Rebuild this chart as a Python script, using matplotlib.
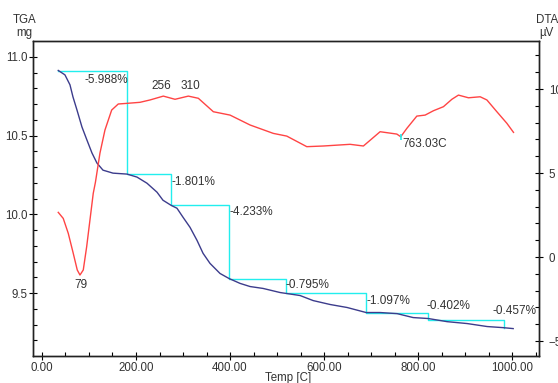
import matplotlib.pyplot as plt
import numpy as np

plt.rcParams['font.family'] = ['Liberation Sans', 'DejaVu Sans']

# TGA curve (mg) vs temperature (C)
tga_temp = [34.7, 48.9, 59.6, 66.0, 74.5, 85.1, 95.7, 106.4, 117.0, 129.8, 151.1,
            180.9, 202.1, 223.4, 244.7, 257.4, 274.5, 287.2, 300.0, 314.9, 329.8,
            342.6, 357.4, 378.7, 397.9, 421.3, 442.6, 470.2, 506.4, 548.9, 576.6,
            612.8, 648.9, 689.4, 719.1, 755.3, 789.4, 821.3, 861.7, 904.3, 946.8,
            980.9, 1002.1]
tga_mass = [10.913, 10.885, 10.822, 10.745, 10.662, 10.554, 10.471, 10.389, 10.325,
            10.280, 10.261, 10.255, 10.236, 10.197, 10.140, 10.089, 10.057, 10.038,
            9.981, 9.917, 9.834, 9.752, 9.688, 9.624, 9.592, 9.561, 9.541, 9.529,
            9.503, 9.484, 9.452, 9.427, 9.408, 9.376, 9.376, 9.369, 9.344, 9.338,
            9.318, 9.306, 9.287, 9.280, 9.274]

# DTA curve (uV) vs temperature (C)
dta_temp = [34.7, 45.3, 56.0, 66.6, 75.1, 80.9, 87.9, 95.1, 102.1, 109.1, 113.8,
            123.4, 134.0, 148.3, 162.3, 181.5, 208.5, 229.8, 258.1, 283.0, 311.3,
            332.6, 364.5, 400.0, 442.6, 492.1, 520.6, 563.2, 598.5, 655.3, 683.6,
            719.1, 754.7, 763.0, 776.0, 797.2, 814.9, 832.6, 853.8, 871.7, 885.7,
            907.0, 931.9, 946.2, 967.4, 988.7, 1002.8]
dta_uv = [2.66, 2.30, 1.41, 0.22, -0.77, -1.07, -0.77, 0.61, 2.20, 3.79, 4.46,
          6.19, 7.56, 8.75, 9.11, 9.15, 9.21, 9.35, 9.58, 9.39, 9.58, 9.45, 8.65,
          8.45, 7.86, 7.36, 7.20, 6.57, 6.61, 6.71, 6.61, 7.46, 7.32, 7.16, 7.66,
          8.39, 8.45, 8.71, 8.95, 9.39, 9.64, 9.48, 9.54, 9.35, 8.65, 7.96, 7.42]

# mass-loss steps: breakpoint temperatures and masses
step_temp = [34.7, 181.0, 274.5, 398.0, 519.0, 689.5, 821.5, 983.0]
step_mass = [10.911, 10.255, 10.057, 9.586, 9.503, 9.376, 9.331, 9.280]
step_text = ['-5.988%', '-1.801%', '-4.233%', '-0.795%', '-1.097%', '-0.402%', '-0.457%']

# DTA peak labels
peak_temp = [79, 256, 310, 763.03]
peak_text = ['79', '256', '310', '763.03C']

txt = '#333333'
fs = 8.5
fig = plt.figure(figsize=(5.58, 3.83), dpi=100)
ax = fig.add_axes([33/558, 27/383, 506/558, 315/383])
ax2 = ax.twinx()

ax.plot(tga_temp, tga_mass, color='#3c3c8c', lw=1.0, zorder=3)
ax2.plot(dta_temp, dta_uv, color='#ff4444', lw=1.0)

# step lines
sx, sy = [step_temp[0]], [step_mass[0]]
for i in range(1, len(step_temp)):
    sx += [step_temp[i], step_temp[i]]
    sy += [step_mass[i-1], step_mass[i]]
ax.plot(sx, sy, color='#22eeee', lw=1.0, zorder=2)

offs = [(1, -9, 'right'), (0, -8, 'left'), (0, -7, 'left'), (0, -6, 'left'),
        (0, -8, 'left'), (-2, 7, 'left'), (-12, 9, 'left')]
for i, t in enumerate(step_text):
    dx, dy, ha = offs[i]
    ax.annotate(t, (step_temp[i+1], step_mass[i]), xytext=(dx, dy),
                textcoords='offset pixels', ha=ha, va='center', fontsize=fs, color=txt)

poffs = [(2, -12, 'center'), (-1, 10, 'center'), (3, 10, 'center'), (2, -7, 'left')]
for i, t in enumerate(peak_text):
    v = np.interp(peak_temp[i], dta_temp, dta_uv)
    dx, dy, ha = poffs[i]
    ax2.annotate(t, (peak_temp[i], v), xytext=(dx, dy), textcoords='offset pixels',
                 ha=ha, va='center', fontsize=fs, color=txt)
ax2.plot([peak_temp[3]], [np.interp(peak_temp[3], dta_temp, dta_uv)], marker='|',
         color='#22eeee', ms=5, mew=1.2)

ax.set_xlim(-19, 1057)
ax.set_ylim(9.1, 11.1)
ax2.set_ylim(-5.89, 12.86)

ax.set_xticks([0, 200, 400, 600, 800, 1000])
ax.set_xticklabels(['0.00', '200.00', '400.00', '600.00', '800.00', '1000.00'])
ax.set_xticks(np.arange(0, 1051, 50), minor=True)
ax.set_yticks([9.5, 10.0, 10.5, 11.0])
ax.set_yticklabels(['9.5', '10.0', '10.5', '11.0'])
ax.set_yticks(np.arange(9.2, 11.05, 0.1), minor=True)
ax2.set_yticks([-5, 0, 5, 10])
ax2.set_yticks(np.arange(-5, 13, 1), minor=True)

for a in (ax, ax2):
    a.tick_params(which='major', direction='inout', length=6, width=0.8,
                  labelsize=8.3, labelcolor=txt, pad=1)
    a.tick_params(which='minor', direction='in', length=3, width=0.8)
    for s in a.spines.values():
        s.set_color('#222222')
        s.set_linewidth(1.0)
ax2.tick_params(which='major', pad=4)

fig.text(24.5/558, 1-20/383, 'TGA', ha='center', va='center', fontsize=8.3, color=txt)
fig.text(24/558, 1-33/383, 'mg', ha='center', va='center', fontsize=8.3, color=txt)
fig.text(547/558, 1-20/383, 'DTA', ha='center', va='center', fontsize=8.3, color=txt)
fig.text(546/558, 1-33/383, 'µV', ha='center', va='center', fontsize=8.3, color=txt)
fig.text(288/558, 1-378/383, 'Temp [C]', ha='center', va='center', fontsize=8.3, color=txt)

fig.savefig('out.png', dpi=100)
